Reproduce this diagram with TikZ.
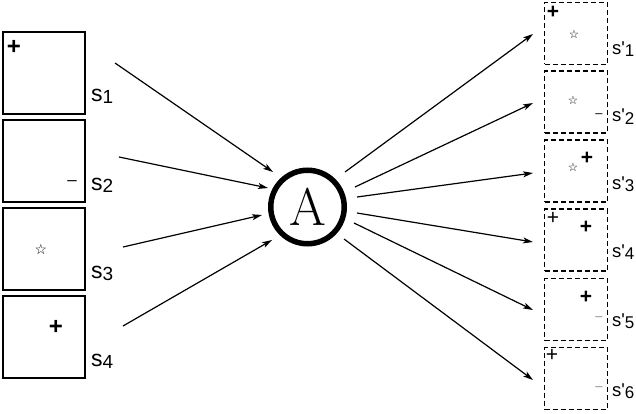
\documentclass[tikz,border=0pt]{standalone}
\usepackage{fontspec}
\setmainfont{Liberation Sans}
\newfontfamily\lmfont{Latin Modern Roman}
\newfontfamily\djv{DejaVu Sans}
\usetikzlibrary{arrows.meta}
\definecolor{minusgray}{HTML}{8A8A8A}
\newcommand{\lsub}[1]{\raisebox{-2pt}{\fontsize{19}{19}\selectfont #1}}
\newcommand{\rsub}[1]{\raisebox{-2pt}{\fontsize{17}{17}\selectfont #1}}
\tikzset{
  lbox/.style={draw, line width=2pt, minimum width=82pt, minimum height=82pt, inner sep=0pt},
  rbox/.style={draw, line width=1.4pt, dash pattern=on 5pt off 3pt, minimum width=62.5pt, minimum height=62pt, inner sep=0pt},
  llab/.style={anchor=base west, inner sep=0pt, font=\fontsize{23}{23}\selectfont},
  rlab/.style={anchor=base west, inner sep=0pt, font=\fontsize{18.5}{18.5}\selectfont},
  bigplus/.style={inner sep=0pt, font=\fontsize{24}{24}\selectfont\bfseries},
  bplus/.style={inner sep=0pt, font=\fontsize{21}{21}\selectfont\bfseries},
  rplus/.style={inner sep=0pt, font=\fontsize{21}{21}\selectfont},
  lminus/.style={inner sep=0pt, font=\fontsize{17}{17}\selectfont},
  rminus/.style={inner sep=0pt, font=\fontsize{13}{13}\selectfont},
  lstar/.style={inner sep=0pt, font=\djv\bfseries\fontsize{14}{14}\selectfont},
  rstar/.style={inner sep=0pt, font=\djv\bfseries\fontsize{11.5}{11.5}\selectfont},
  arr/.style={line width=1.2pt, -{Stealth[length=10pt,width=6pt,inset=2.5pt]}},
}
\begin{document}
\begin{tikzpicture}[x=1pt,y=-1pt]
\useasboundingbox (0,0) rectangle (636,414);
% left boxes
\node[lbox] (b1) at (44,73) {};
\node[lbox] (b2) at (44,161) {};
\node[lbox] (b3) at (44,249) {};
\node[lbox] (b4) at (44,337) {};
\node[bigplus] (b1p) at (14,47) {+};
\node[lminus] (b2m) at (72,183) {–};
\node[lstar] (b3s) at (41,249) {☆};
\node[bigplus] (b4p) at (56,327) {+};
\node[llab] (l1) at (91,102) {s\lsub{1}};
\node[llab] (l2) at (91,190) {s\lsub{2}};
\node[llab] (l3) at (91,278) {s\lsub{3}};
\node[llab] (l4) at (91,366) {s\lsub{4}};
% centre
\node[circle, draw, line width=5.5pt, minimum size=73.5pt, inner sep=0pt] (A) at (307.5,207) {\lmfont\fontsize{53}{53}\selectfont A};
% right boxes
\node[rbox] (r1) at (576,33.5) {};
\node[rbox] (r2) at (576,102) {};
\node[rbox] (r3) at (576,171) {};
\node[rbox] (r4) at (576,240) {};
\node[rbox] (r5) at (576,309.5) {};
\node[rbox] (r6) at (576,378.5) {};
\node[bplus] (r1p) at (553,12) {+};
\node[rstar] (r1s) at (574,34) {☆};
\node[rstar] (r2s) at (573,100) {☆};
\node[rminus] (r2m) at (599,116) {–};
\node[rstar] (r3s) at (573,167) {☆};
\node[bplus] (r3p) at (587,158) {+};
\node[rplus] (r4a) at (553,218) {+};
\node[bplus] (r4b) at (586,227) {+};
\node[bplus] (r5p) at (586,297) {+};
\node[rminus, text=minusgray] (r5m) at (599,319) {–};
\node[rplus] (r6p) at (552,355) {+};
\node[rminus, text=minusgray] (r6m) at (599,389) {–};
\node[rlab] (q1) at (612,55) {s\textquotesingle\rsub{1}};
\node[rlab] (q2) at (612,122) {s\textquotesingle\rsub{2}};
\node[rlab] (q3) at (612,189) {s\textquotesingle\rsub{3}};
\node[rlab] (q4) at (612,257) {s\textquotesingle\rsub{4}};
\node[rlab] (q5) at (612,326) {s\textquotesingle\rsub{5}};
\node[rlab] (q6) at (612,396) {s\textquotesingle\rsub{6}};
% connector ends
\coordinate (i1) at (115,63);  \coordinate (e1) at (273,172);
\coordinate (i2) at (119,157); \coordinate (e2) at (268,188);
\coordinate (i3) at (123,247); \coordinate (e3) at (262,215);
\coordinate (i4) at (123,326); \coordinate (e4) at (272,240);
\coordinate (o1) at (345,172); \coordinate (t1) at (533,34);
\coordinate (o2) at (355,187); \coordinate (t2) at (533,103);
\coordinate (o3) at (357,197); \coordinate (t3) at (533,173);
\coordinate (o4) at (357,213); \coordinate (t4) at (533,242);
\coordinate (o5) at (354,223); \coordinate (t5) at (533,310);
\coordinate (o6) at (344,239); \coordinate (t6) at (533,380);
\foreach \k in {1,2,3,4} { \draw[arr] (i\k) -- (e\k); }
\foreach \k in {1,...,6} { \draw[arr] (o\k) -- (t\k); }
\end{tikzpicture}
\end{document}
